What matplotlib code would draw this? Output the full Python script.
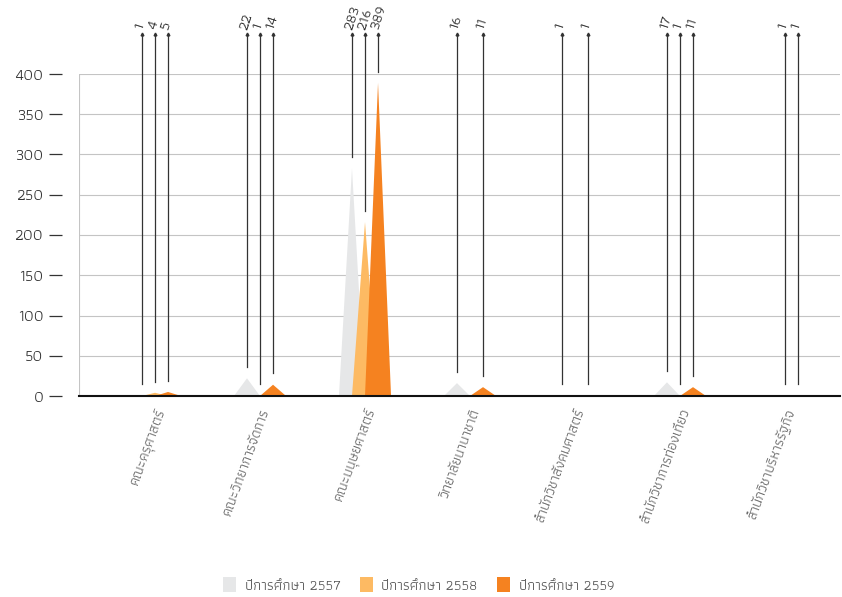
import numpy as np
import matplotlib
matplotlib.use("Agg")
import matplotlib.pyplot as plt
from matplotlib.patches import Patch

plt.rcParams['font.family'] = ['Athiti', 'Kanit', 'Niramit', 'DejaVu Sans']

categories = ['คณะครุศาสตร์', 'คณะวิทยาการจัดการ', 'คณะมนุษยศาสตร์', 'วิทยาลัยนานาชาติ',
              'สำนักวิชาสังคมศาสตร์', 'สำนักวิชาการท่องเที่ยว', 'สำนักวิชาบริหารรัฐกิจ']
series_names = ['ปีการศึกษา 2557', 'ปีการศึกษา 2558', 'ปีการศึกษา 2559']
y2557 = [1, 22, 283, 16, 1, 17, None]
y2558 = [4, 1, 216, None, None, 1, 1]
y2559 = [5, 14, 389, 11, 1, 11, 1]
colors = ['#e6e7e8', '#fdba63', '#f58220']

fig = plt.figure(figsize=(8.42, 5.97), dpi=100)
ax = fig.add_axes([79 / 842, 1 - 396 / 597, 761 / 842, 322 / 597])

offsets = [-0.124, 0.0, 0.124]
half = 0.124
x = np.arange(len(categories))

# pyramid shaped columns
for vals, off, col in zip([y2557, y2558, y2559], offsets, colors):
    for i, v in enumerate(vals):
        if v is None:
            continue
        cx = x[i] + off
        ax.fill([cx - half, cx, cx + half], [0, v, 0], color=col, lw=0, zorder=2)

# value labels with leader lines above the plot
top = 450
for vals, off in zip([y2557, y2558, y2559], offsets):
    for i, v in enumerate(vals):
        if v is None:
            continue
        cx = x[i] + off
        ax.plot([cx, cx], [v + 14, top], color='#333333', lw=0.9, clip_on=False, zorder=3)
        ax.plot(cx, top, marker='^', ms=2.0, color='#333333', clip_on=False)
        ax.text(cx - 0.03, top + 6, str(v), rotation=72, rotation_mode='anchor',
                ha='left', va='center', fontsize=11, color='#222222', clip_on=False)

ax.set_xlim(-0.724, 6.524)
ax.set_ylim(0, 400)
ax.set_yticks(np.arange(0, 401, 50))
ax.yaxis.grid(True, color='#c4c4c4', lw=0.8, zorder=0)
ax.set_axisbelow(True)
ax.axvline(-0.724, color='#c4c4c4', lw=0.8, zorder=1)

for s in ['top', 'right']:
    ax.spines[s].set_visible(False)
ax.spines['left'].set_position(('outward', 12))
ax.spines['left'].set_color('none')
ax.spines['bottom'].set_color('#111111')
ax.spines['bottom'].set_linewidth(1.5)
ax.spines['bottom'].set_zorder(4)

ax.tick_params(axis='y', length=9.5, width=0.9, color='#333333', pad=4,
               labelsize=11.5, labelcolor='#333333')
ax.set_xticks(x)
ax.set_xticklabels(categories, rotation=70, ha='right', rotation_mode='anchor',
                   fontsize=10.5, color='#666666')
ax.tick_params(axis='x', length=0, pad=8)

handles = [Patch(facecolor=c, edgecolor='none') for c in colors]
fig.legend(handles, series_names, loc='center', bbox_to_anchor=(0.497, 1 - 585 / 597),
           ncol=3, frameon=False, fontsize=10.5, handlelength=0.9, handleheight=1.2,
           handletextpad=0.6, columnspacing=1.3, labelcolor='#555555')

fig.savefig('out.png', dpi=100)
